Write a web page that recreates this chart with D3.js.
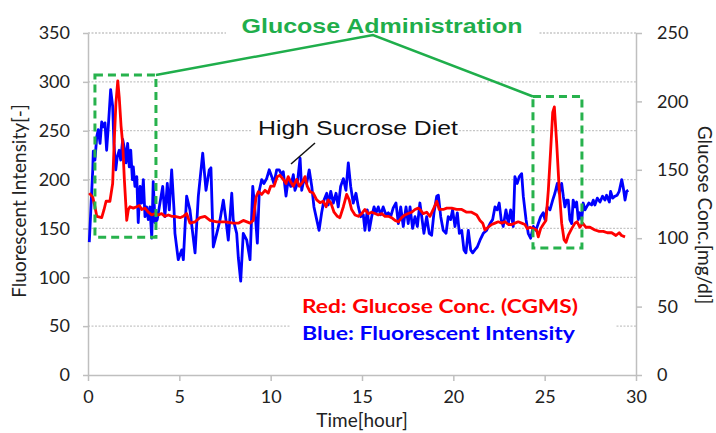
<!DOCTYPE html>
<html><head><meta charset="utf-8">
<script src="https://cdn.jsdelivr.net/npm/d3@7"></script>
<style>html,body{margin:0;padding:0;background:#fff}svg{display:block}</style>
</head><body><svg id="chart" width="716" height="433"></svg>
<script>
// Fluorescent intensity (left axis) sampled over time in hours
const blueHour = [0.07,0.26,0.29,0.38,0.48,0.56,0.66,0.75,0.84,0.93,1.02,1.11,1.24,1.35,1.42,1.52,1.60,1.71,1.79,1.90,1.99,2.08,2.17,2.26,2.34,2.43,2.48,2.57,2.67,2.75,2.85,2.94,3.03,3.12,3.21,3.30,3.39,3.49,3.57,3.67,3.79,3.94,4.09,4.21,4.34,4.45,4.58,4.71,4.76,4.94,5.13,5.22,5.40,5.58,5.86,6.04,6.28,6.46,6.64,6.73,6.86,7.05,7.23,7.41,7.55,7.68,7.87,7.95,8.14,8.23,8.36,8.50,8.69,8.87,9.02,9.14,9.27,9.38,9.51,9.63,9.78,9.92,10.06,10.18,10.33,10.47,10.60,10.69,10.84,10.96,11.10,11.24,11.33,11.46,11.61,11.70,11.82,11.97,12.11,12.25,12.37,12.52,12.65,12.79,12.92,13.07,13.15,13.29,13.43,13.58,13.70,13.83,13.98,14.12,14.25,14.38,14.52,14.67,14.80,14.93,15.07,15.16,15.29,15.40,15.53,15.66,15.77,15.89,16.02,16.16,16.31,16.44,16.57,16.71,16.86,16.99,17.12,17.26,17.41,17.53,17.63,17.77,17.90,18.03,18.17,18.27,18.39,18.54,18.68,18.81,18.94,19.09,19.18,19.31,19.45,19.60,19.72,19.85,19.96,20.09,20.22,20.33,20.46,20.58,20.69,20.82,20.95,21.06,21.18,21.31,21.46,21.64,21.82,22.01,22.15,22.28,22.40,22.51,22.62,22.73,22.88,23.01,23.14,23.28,23.37,23.50,23.61,23.74,23.83,23.98,24.10,24.23,24.38,24.52,24.65,24.78,24.92,25.02,25.14,25.29,25.44,25.56,25.69,25.80,25.93,26.02,26.11,26.20,26.29,26.38,26.48,26.56,26.66,26.75,26.84,26.93,27.03,27.11,27.21,27.30,27.42,27.57,27.66,27.75,27.88,28.03,28.17,28.30,28.39,28.54,28.61,28.72,28.85,28.97,29.08,29.22,29.31,29.40,29.49,29.58];
const blueValue = [136,210,229,220,244,251,237,259,254,258,230,254,292,275,237,210,223,230,220,241,232,217,237,213,230,200,213,193,203,156,193,176,200,162,172,159,172,140,198,156,159,176,193,162,196,169,210,169,145,118,128,118,183,169,125,183,227,189,210,212,131,145,159,179,159,138,186,159,145,120,96,145,138,118,193,169,135,189,200,196,201,210,203,196,210,210,205,208,183,200,193,205,189,196,222,189,200,196,210,193,172,159,148,166,179,186,174,188,176,186,172,193,201,189,217,193,176,186,172,162,164,148,169,148,162,172,166,172,164,172,164,166,162,171,176,155,172,152,172,155,172,150,162,152,176,162,145,162,145,143,166,183,184,162,148,145,162,159,169,152,166,145,148,128,125,148,128,125,128,131,138,145,148,155,159,172,169,176,159,152,169,155,169,152,203,196,203,206,183,159,145,140,152,148,155,162,166,159,172,169,179,186,196,186,196,183,172,179,179,159,155,179,172,177,159,166,159,176,169,172,176,174,179,174,181,177,183,179,184,177,188,181,183,184,188,200,191,179,188,189];

// Glucose concentration from CGMS (right axis, mg/dl)
const redHour = [0.07,0.26,0.38,0.48,0.75,0.88,0.99,1.20,1.35,1.44,1.53,1.63,1.71,1.81,1.90,1.99,2.12,2.21,2.30,2.48,2.67,2.81,2.94,3.12,3.30,3.49,3.67,3.85,4.03,4.21,4.40,4.58,4.76,5.04,5.22,5.40,5.58,5.86,6.13,6.40,6.68,7.05,7.50,7.95,8.23,8.50,8.87,9.05,9.20,9.32,9.51,9.69,9.87,10.00,10.18,10.36,10.51,10.69,10.84,10.96,11.10,11.24,11.42,11.57,11.75,11.88,12.00,12.15,12.33,12.52,12.70,12.88,13.03,13.15,13.29,13.47,13.65,13.79,13.98,14.16,14.30,14.43,14.62,14.80,14.98,15.16,15.34,15.53,15.71,15.89,16.08,16.26,16.44,16.62,16.81,16.99,17.17,17.35,17.53,17.72,17.90,18.08,18.17,18.35,18.54,18.72,18.90,19.09,19.23,19.45,19.64,19.91,20.18,20.46,20.73,21.00,21.28,21.46,21.61,21.73,21.91,22.10,22.28,22.46,22.65,22.83,23.01,23.19,23.37,23.55,23.74,23.92,24.05,24.20,24.38,24.56,24.65,24.78,24.92,25.07,25.20,25.33,25.44,25.53,25.66,25.80,25.93,26.06,26.17,26.29,26.48,26.66,26.78,26.93,27.08,27.26,27.48,27.75,27.99,28.21,28.43,28.67,28.90,29.08,29.21,29.40];
const redValue = [133,130,123,116,115,121,127,127,140,172,199,215,203,182,169,143,113,121,123,122,123,124,121,122,119,117,118,117,118,116,117,116,116,115,116,118,111,112,115,116,113,112,112,111,111,113,111,113,130,134,132,135,133,138,138,145,146,143,140,145,141,138,143,138,141,145,138,134,133,128,126,127,123,128,126,119,116,115,123,132,128,121,117,116,118,121,118,119,118,117,118,116,116,115,113,112,115,117,118,119,121,122,121,118,119,116,121,127,121,121,122,122,121,121,119,119,117,113,111,106,108,110,111,112,111,112,110,110,111,112,111,110,107,108,107,106,101,107,110,113,135,165,192,196,169,135,111,99,97,102,107,111,112,108,111,108,108,106,105,105,104,104,102,104,102,101];

// Axis tick values
const timeTicks = [0,5,10,15,20,25,30];
const intensityTicks = [0,50,100,150,200,250,300,350];
const glucoseTicks = [0,50,100,150,200,250];

// Glucose administration windows (hours, intensity units)
const doseHourStart = [0.38, 24.36];
const doseHourEnd = [3.72, 27.04];
const doseLow = [141, 130];
const doseHigh = [307, 285];

const svg = d3.select('#chart');
const x = d3.scaleLinear().domain([0, 30]).range([88, 636]);
const yL = d3.scaleLinear().domain([0, 350]).range([375, 33]);
const yR = d3.scaleLinear().domain([0, 250]).range([375, 33]);

const GREEN = '#1fae4b';
const AXIS = '#bfbfbf';
const TICKFONT = 'Lato, "Open Sans", sans-serif';

// dotted horizontal gridlines
svg.append('g').selectAll('line').data(intensityTicks.slice(1)).join('line')
  .attr('x1', x(0)).attr('x2', x(30))
  .attr('y1', d => yL(d)).attr('y2', d => yL(d))
  .attr('stroke', '#c6c6c6').attr('stroke-width', 1.3).attr('stroke-dasharray', '2,1.5');

// axes
function styleAxis(g) {
  g.select('.domain').attr('stroke', AXIS).attr('stroke-width', 1.5);
  g.selectAll('.tick line').attr('stroke', AXIS).attr('stroke-width', 1.5);
  g.selectAll('.tick text').attr('fill', '#222').style('font-family', TICKFONT).style('font-size', '18px');
}
svg.append('g').attr('transform', `translate(${x(0)},0)`)
  .call(d3.axisLeft(yL).tickValues(intensityTicks).tickSize(5).tickSizeOuter(0).tickPadding(13))
  .call(styleAxis);
svg.append('g').attr('transform', `translate(${x(30)},0)`)
  .call(d3.axisRight(yR).tickValues(glucoseTicks).tickSize(6).tickSizeOuter(0).tickPadding(15))
  .call(styleAxis);
svg.append('g').attr('transform', `translate(0,${yL(0)})`)
  .call(d3.axisBottom(x).tickValues(timeTicks).tickSize(6).tickSizeOuter(0).tickPadding(9))
  .call(styleAxis);

// axis titles
svg.append('text').attr('transform', 'translate(19,201) rotate(-90)')
  .attr('text-anchor', 'middle').attr('dy', '0.35em')
  .style('font-family', TICKFONT).style('font-size', '19px').attr('fill', '#222')
  .text('Fluorescent Intensity[-]');
svg.append('text').attr('transform', 'translate(705,215) rotate(90)')
  .attr('text-anchor', 'middle').attr('dy', '0.35em')
  .style('font-family', TICKFONT).style('font-size', '19px').attr('fill', '#222')
  .text('Glucose Conc.[mg/dl]');
svg.append('text').attr('x', 362).attr('y', 427).attr('text-anchor', 'middle')
  .style('font-family', TICKFONT).style('font-size', '19px').attr('fill', '#222')
  .text('Time[hour]');

// label backgrounds that interrupt the gridlines
svg.append('rect').attr('x', 226).attr('y', 12).attr('width', 313).attr('height', 26).attr('fill', '#fff');
svg.append('rect').attr('x', 251).attr('y', 118).attr('width', 208).attr('height', 22).attr('fill', '#fff');
svg.append('rect').attr('x', 291).attr('y', 293).attr('width', 325).attr('height', 54).attr('fill', '#fff');

// data lines
const blueLine = d3.line().x((d, i) => x(blueHour[i])).y(d => yL(d));
const redLine = d3.line().x((d, i) => x(redHour[i])).y(d => yR(d));
svg.append('path').datum(blueValue).attr('d', blueLine)
  .attr('fill', 'none').attr('stroke', '#0000ff').attr('stroke-width', 2.8).attr('stroke-linejoin', 'round');
svg.append('path').datum(redValue).attr('d', redLine)
  .attr('fill', 'none').attr('stroke', '#ff0000').attr('stroke-width', 2.8).attr('stroke-linejoin', 'round');

// glucose administration boxes
svg.append('g').selectAll('rect').data(doseHourStart).join('rect')
  .attr('x', (d, i) => x(d)).attr('y', (d, i) => yL(doseHigh[i]))
  .attr('width', (d, i) => x(doseHourEnd[i]) - x(d))
  .attr('height', (d, i) => yL(doseLow[i]) - yL(doseHigh[i]))
  .attr('fill', 'none').attr('stroke', '#27b24d').attr('stroke-width', 3).attr('stroke-dasharray', '8,5');

// callout joining both boxes
const apex = [x(15.6), 35];
svg.append('polyline')
  .attr('points', [[x(doseHourEnd[0]), yL(doseHigh[0])], apex, [x(doseHourStart[1]), yL(doseHigh[1])]].map(p => p.join(',')).join(' '))
  .attr('fill', 'none').attr('stroke', GREEN).attr('stroke-width', 2.5);
svg.append('text').attr('x', 382).attr('y', 33).attr('text-anchor', 'middle')
  .attr('textLength', 281).attr('lengthAdjust', 'spacingAndGlyphs')
  .style('font-family', '"Liberation Sans", Arial, sans-serif').style('font-weight', 'bold').style('font-size', '21px')
  .attr('fill', GREEN).text('Glucose Administration');

// diet annotation
svg.append('text').attr('x', 258).attr('y', 135)
  .attr('textLength', 200).attr('lengthAdjust', 'spacingAndGlyphs')
  .style('font-family', '"Liberation Sans", Arial, sans-serif').style('font-size', '20px')
  .attr('fill', '#111').text('High Sucrose Diet');
svg.append('line').attr('x1', 315).attr('y1', 143).attr('x2', 291).attr('y2', 164)
  .attr('stroke', '#111').attr('stroke-width', 1.5);

// series key
svg.append('text').attr('x', 302).attr('y', 313)
  .attr('textLength', 276).attr('lengthAdjust', 'spacingAndGlyphs')
  .style('font-family', TICKFONT).style('font-weight', 'bold').style('font-size', '19px')
  .attr('fill', '#ff0000').text('Red: Glucose Conc. (CGMS)');
svg.append('text').attr('x', 302).attr('y', 340)
  .attr('textLength', 273).attr('lengthAdjust', 'spacingAndGlyphs')
  .style('font-family', TICKFONT).style('font-weight', 'bold').style('font-size', '19px')
  .attr('fill', '#0000ff').text('Blue: Fluorescent Intensity');
</script></body></html>
